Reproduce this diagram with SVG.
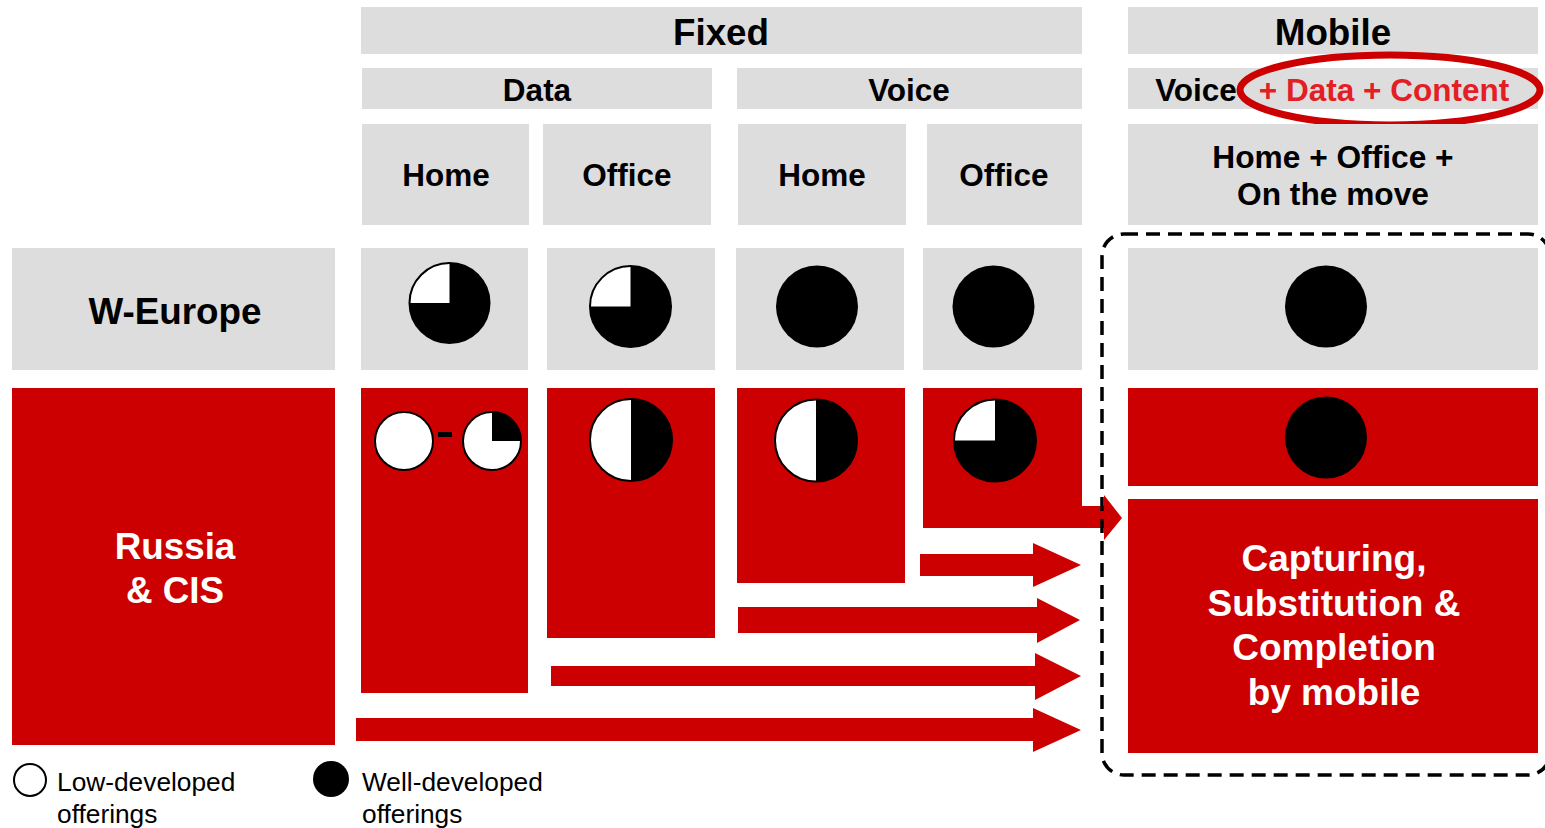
<svg xmlns="http://www.w3.org/2000/svg" width="1545" height="828" viewBox="0 0 1545 828">
<style>
.g{fill:#DDDDDD}
.r{fill:#CC0000}
.t{font-family:"Liberation Sans",Arial,sans-serif;font-weight:bold;text-anchor:middle;fill:#000}
.w{fill:#fff}
.lg{font-family:"Liberation Sans",Arial,sans-serif;font-size:26.3px;fill:#000}
.pc{stroke:#000;stroke-width:2}
</style>
<rect width="1545" height="828" fill="#fff"/>
<g id="hdr-fixed"><rect class="g" x="361" y="7" width="721" height="47"/><text class="t" x="721" y="45" font-size="36.8">Fixed</text></g>
<g id="hdr-mobile"><rect class="g" x="1128" y="7" width="410" height="47"/><text class="t" x="1333" y="45" font-size="36.8">Mobile</text></g>
<g id="hdr-data"><rect class="g" x="362" y="68" width="350" height="41"/><text class="t" x="537" y="101" font-size="31.5">Data</text></g>
<g id="hdr-voice"><rect class="g" x="737" y="68" width="345" height="41"/><text class="t" x="909" y="101" font-size="31.5">Voice</text></g>
<g id="hdr-mvoice"><rect class="g" x="1128" y="68" width="410" height="41"/><text class="t" x="1196" y="101" font-size="31.5">Voice</text><text class="t" x="1384" y="101" font-size="31.5" style="fill:#E31E24">+ Data + Content</text>
<ellipse cx="1390" cy="90" rx="150" ry="35" fill="none" stroke="#CC0000" stroke-width="7"/></g>
<g id="hdr-home1"><rect class="g" x="362" y="124" width="167" height="101"/><text class="t" x="446" y="186" font-size="31.5">Home</text></g>
<g id="hdr-office1"><rect class="g" x="543" y="124" width="168" height="101"/><text class="t" x="627" y="186" font-size="31.5">Office</text></g>
<g id="hdr-home2"><rect class="g" x="738" y="124" width="168" height="101"/><text class="t" x="822" y="186" font-size="31.5">Home</text></g>
<g id="hdr-office2"><rect class="g" x="927" y="124" width="155" height="101"/><text class="t" x="1004" y="186" font-size="31.5">Office</text></g>
<g id="hdr-mobilewhere"><rect class="g" x="1128" y="124" width="410" height="101"/><text class="t" x="1333" y="168" font-size="31.7">Home + Office +</text><text class="t" x="1333" y="205" font-size="31.7">On the move</text></g>

<g id="row-weurope"><rect class="g" x="12" y="248" width="323" height="122"/><text class="t" x="175" y="324" font-size="36.8">W-Europe</text></g>
<g id="we-data-home"><rect class="g" x="361" y="248" width="167" height="122"/><circle cx="449.5" cy="303" r="40" fill="#000"/><path d="M449.5,303 L409.5,303 A40,40 0 0 1 449.5,263 Z" fill="#fff"/><circle class="pc" cx="449.5" cy="303" r="40" fill="none"/></g>
<g id="we-data-office"><rect class="g" x="547" y="248" width="168" height="122"/><circle cx="630.5" cy="306.5" r="40.5" fill="#000"/><path d="M630.5,306.5 L590,306.5 A40.5,40.5 0 0 1 630.5,266 Z" fill="#fff"/><circle class="pc" cx="630.5" cy="306.5" r="40.5" fill="none"/></g>
<g id="we-voice-home"><rect class="g" x="736" y="248" width="168" height="122"/><circle cx="817" cy="306.5" r="41" fill="#000"/></g>
<g id="we-voice-office"><rect class="g" x="923" y="248" width="159" height="122"/><circle cx="993.5" cy="306.5" r="41" fill="#000"/></g>
<g id="we-mobile"><rect class="g" x="1128" y="248" width="410" height="122"/><circle cx="1326" cy="306.5" r="41" fill="#000"/></g>

<g id="row-russia"><rect class="r" x="12" y="388" width="323" height="357"/><text class="t w" x="175" y="559" font-size="36.8">Russia</text><text class="t w" x="175" y="603" font-size="36.8">&amp; CIS</text></g>
<g id="ru-data-home"><rect class="r" x="361" y="388" width="167" height="305"/>
<circle class="pc" cx="404" cy="441" r="29" fill="#fff"/>
<rect x="438" y="432" width="14" height="5" fill="#000"/>
<circle cx="492" cy="441" r="29" fill="#fff"/><path d="M492,441 L492,412 A29,29 0 0 1 521,441 Z" fill="#000"/><circle class="pc" cx="492" cy="441" r="29" fill="none"/></g>
<g id="ru-data-office"><rect class="r" x="547" y="388" width="168" height="250"/><circle cx="631" cy="440" r="41" fill="#fff"/><path d="M631,399 A41,41 0 0 1 631,481 Z" fill="#000"/><circle class="pc" cx="631" cy="440" r="41" fill="none"/></g>
<g id="ru-voice-home"><rect class="r" x="737" y="388" width="168" height="195"/><circle cx="816" cy="440.5" r="41" fill="#fff"/><path d="M816,399.5 A41,41 0 0 1 816,481.5 Z" fill="#000"/><circle class="pc" cx="816" cy="440.5" r="41" fill="none"/></g>
<g id="ru-voice-office"><rect class="r" x="923" y="388" width="159" height="140"/><circle cx="995" cy="440.5" r="41" fill="#000"/><path d="M995,440.5 L954,440.5 A41,41 0 0 1 995,399.5 Z" fill="#fff"/><circle class="pc" cx="995" cy="440.5" r="41" fill="none"/></g>
<g id="ru-mobile"><rect class="r" x="1128" y="388" width="410" height="98"/><circle cx="1326" cy="437.5" r="41" fill="#000"/></g>
<g id="capturing"><rect class="r" x="1128" y="499" width="410" height="254"/>
<text class="t w" x="1334" y="571" font-size="37">Capturing,</text>
<text class="t w" x="1334" y="616" font-size="37">Substitution &amp;</text>
<text class="t w" x="1334" y="660" font-size="37">Completion</text>
<text class="t w" x="1334" y="705" font-size="37">by mobile</text></g>

<g id="connectors" fill="#CC0000">
<path d="M1081,506 L1104,506 L1104,495 L1122,518 L1104,540 L1104,528 L1081,528 Z"/>
<path d="M920,554 L1033,554 L1033,543 L1081,565 L1033,587 L1033,576 L920,576 Z"/>
<path d="M738,607 L1037,607 L1037,598 L1080,620 L1037,643 L1037,633 L738,633 Z"/>
<path d="M551,666 L1035,666 L1035,653 L1081,676 L1035,700 L1035,686 L551,686 Z"/>
<path d="M356,718 L1033,718 L1033,708 L1081,730 L1033,752 L1033,741 L356,741 Z"/>
</g>
<g id="mobile-focus"><rect x="1102" y="234" width="448" height="541" rx="22" fill="none" stroke="#000" stroke-width="3.5" stroke-dasharray="14 8"/></g>

<g id="legend">
<circle cx="30" cy="780" r="16" fill="#fff" stroke="#000" stroke-width="2"/>
<text class="lg" x="57" y="791">Low-developed</text>
<text class="lg" x="57" y="823">offerings</text>
<circle cx="331" cy="779" r="18" fill="#000"/>
<text class="lg" x="362" y="791">Well-developed</text>
<text class="lg" x="362" y="823">offerings</text>
</g>
</svg>
